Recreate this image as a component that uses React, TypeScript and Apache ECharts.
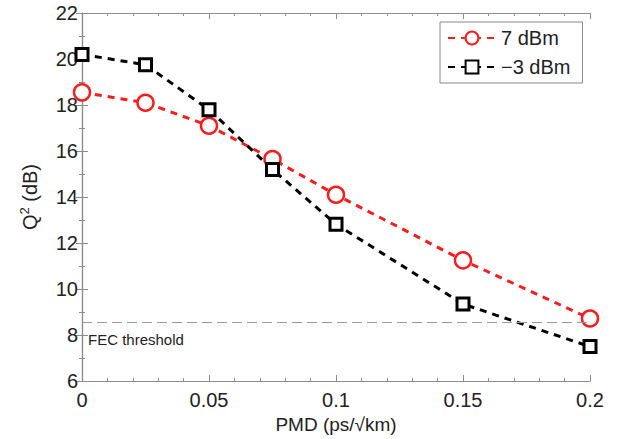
import React, { useEffect, useRef } from "react";
import * as echarts from "echarts";

const pmd = [0, 0.025, 0.05, 0.075, 0.1, 0.15, 0.2];
const q7dBm = [18.55, 18.1, 17.1, 15.65, 14.1, 11.25, 8.72];
const qMinus3dBm = [20.2, 19.75, 17.8, 15.2, 12.82, 9.35, 7.5];
const fecThreshold = 8.55;
const seriesNames = ["7 dBm", "\u22123 dBm"];

export default function App() {
  const ref = useRef<HTMLDivElement>(null);
  useEffect(() => {
    const chart = echarts.init(ref.current!, null, { renderer: "svg" });
    const font = "Liberation Sans, Arial, sans-serif";
    const axisGray = "#8c8c8c";
    const tickCommon = {
      axisLine: { show: true, lineStyle: { color: axisGray, width: 1.2 } },
      axisTick: { show: true, inside: true, length: 6, lineStyle: { color: axisGray } },
      minorTick: { show: true, splitNumber: 5, length: 3, lineStyle: { color: axisGray } },
      splitLine: { show: false },
    };
    chart.setOption({
      animation: false,
      backgroundColor: "#fff",
      grid: { left: 82, right: 30, top: 13, bottom: 56, show: false },
      legend: {
        orient: "vertical",
        left: 440,
        top: 22,
        align: "left",
        backgroundColor: "#fff",
        borderColor: "#888",
        borderWidth: 1,
        borderRadius: 0,
        padding: [6, 12, 6, 7],
        itemGap: 9,
        itemWidth: 48,
        itemHeight: 16,
        textStyle: { fontFamily: font, fontSize: 20, color: "#222" },
        data: seriesNames,
      },
      xAxis: [
        {
          type: "value",
          min: 0,
          max: 0.2,
          interval: 0.05,
          position: "bottom",
          name: "PMD (ps/\u221Akm)",
          nameLocation: "middle",
          nameGap: 31,
          nameTextStyle: { fontFamily: font, fontSize: 19, color: "#222" },
          axisLabel: {
            fontFamily: font,
            fontSize: 20,
            color: "#222",
            margin: 9,
            formatter: (v: number) => String(+v.toFixed(3)),
          },
          ...tickCommon,
        },
        {
          type: "value",
          min: 0,
          max: 0.2,
          interval: 0.05,
          position: "top",
          axisLabel: { show: false },
          ...tickCommon,
        },
      ],
      yAxis: [
        {
          type: "value",
          min: 6,
          max: 22,
          interval: 2,
          position: "left",
          name: "{q|Q}{s|2}{q| (dB)}",
          nameLocation: "middle",
          nameGap: 41,
          nameTextStyle: {
            fontFamily: font,
            fontSize: 20,
            color: "#222",
            rich: {
              q: { fontFamily: font, fontSize: 20, color: "#222" },
              s: { fontFamily: font, fontSize: 13, color: "#222", padding: [0, 0, 10, 0] },
            },
          },
          axisLabel: { fontFamily: font, fontSize: 20, color: "#222", margin: 4 },
          ...tickCommon,
          minorTick: { show: true, splitNumber: 2, length: 3, lineStyle: { color: axisGray } },
        },
        {
          type: "value",
          min: 6,
          max: 22,
          interval: 2,
          position: "right",
          axisLabel: { show: false },
          ...tickCommon,
          minorTick: { show: true, splitNumber: 2, length: 3, lineStyle: { color: axisGray } },
        },
      ],
      series: [
        {
          name: seriesNames[0],
          type: "line",
          data: pmd.map((x, i) => [x, q7dBm[i]]),
          symbol: "circle",
          symbolSize: 16,
          showAllSymbol: true,
          color: "#ff1a1a",
          lineStyle: { color: "#ff1a1a", width: 3, type: [7, 6] },
          itemStyle: { color: "#fff", borderColor: "#ff1a1a", borderWidth: 2.5 },
          z: 3,
        },
        {
          name: seriesNames[1],
          type: "line",
          data: pmd.map((x, i) => [x, qMinus3dBm[i]]),
          symbol: "rect",
          symbolSize: 12,
          showAllSymbol: true,
          color: "#000",
          lineStyle: { color: "#000", width: 3, type: [7, 6] },
          itemStyle: { color: "#fff", borderColor: "#000", borderWidth: 3 },
          z: 4,
        },
        {
          name: "FEC",
          type: "line",
          data: [],
          markLine: {
            silent: true,
            symbol: ["none", "none"],
            lineStyle: { color: "#999", width: 1, type: [10, 5] },
            label: {
              show: true,
              position: "insideStartBottom",
              formatter: "FEC threshold",
              fontFamily: font,
              fontSize: 15,
              color: "#222",
              distance: [6, 10],
            },
            data: [{ yAxis: fecThreshold }],
          },
        },
      ],
    });
    return () => chart.dispose();
  }, []);
  return <div ref={ref} style={{ width: 620, height: 439, position: "absolute", left: 0, top: 0 }} />;
}
